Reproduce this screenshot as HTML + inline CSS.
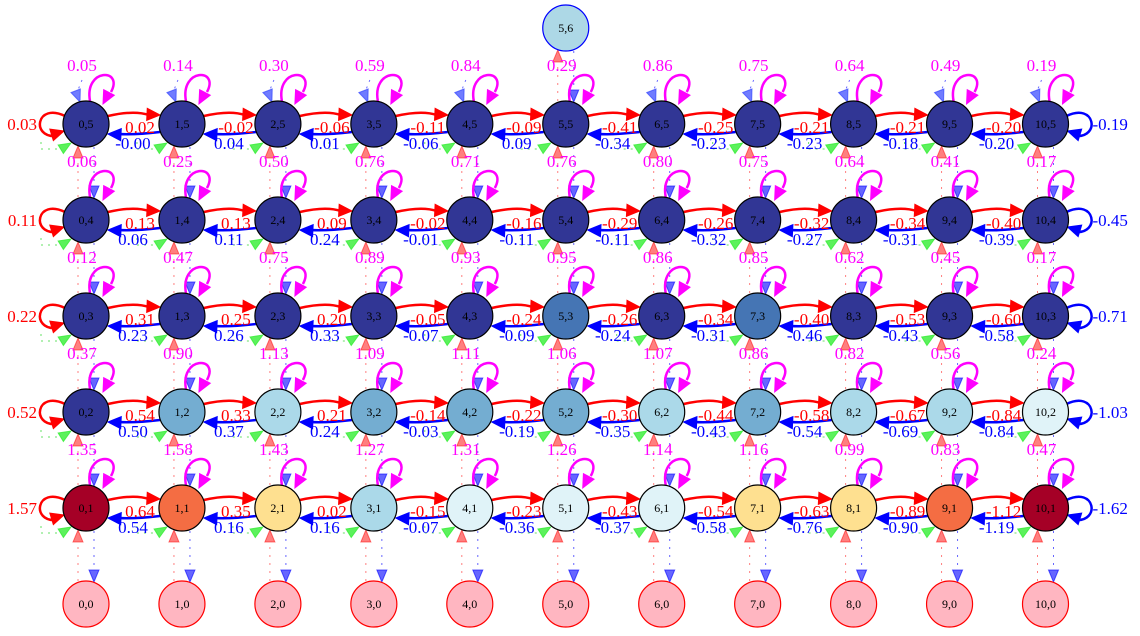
<!DOCTYPE html>
<html><head><meta charset="utf-8">
<style>
html,body{margin:0;padding:0;background:#fff;}
svg{display:block;}
text{font-family:"Liberation Serif",serif;}
</style></head>
<body>
<svg id="g" width="1140" height="636" viewBox="0 0 1140 636" xmlns="http://www.w3.org/2000/svg"></svg>
<script>
// rows 5..1 (top to bottom)
const rowIds = [5,4,3,2,1];
const colIds = [0,1,2,3,4,5,6,7,8,9,10];
const selfVals = [
 ["0.05","0.14","0.30","0.59","0.84","0.29","0.86","0.75","0.64","0.49","0.19"],
 ["0.06","0.25","0.50","0.76","0.71","0.76","0.80","0.75","0.64","0.41","0.17"],
 ["0.12","0.47","0.75","0.89","0.93","0.95","0.86","0.85","0.62","0.45","0.17"],
 ["0.37","0.90","1.13","1.09","1.11","1.06","1.07","0.86","0.82","0.56","0.24"],
 ["1.35","1.58","1.43","1.27","1.31","1.26","1.14","1.16","0.99","0.83","0.47"]];
const rightVals = [
 ["0.02","-0.02","-0.06","-0.11","-0.09","-0.41","-0.25","-0.21","-0.21","-0.20"],
 ["0.13","0.13","0.09","-0.02","-0.16","-0.29","-0.26","-0.32","-0.34","-0.40"],
 ["0.31","0.25","0.20","-0.05","-0.24","-0.26","-0.34","-0.40","-0.53","-0.60"],
 ["0.54","0.33","0.21","-0.14","-0.22","-0.30","-0.44","-0.58","-0.67","-0.84"],
 ["0.64","0.35","0.02","-0.15","-0.23","-0.43","-0.54","-0.63","-0.89","-1.12"]];
const leftVals = [
 ["-0.00","0.04","0.01","-0.06","0.09","-0.34","-0.23","-0.23","-0.18","-0.20"],
 ["0.06","0.11","0.24","-0.01","-0.11","-0.11","-0.32","-0.27","-0.31","-0.39"],
 ["0.23","0.26","0.33","-0.07","-0.09","-0.24","-0.31","-0.46","-0.43","-0.58"],
 ["0.50","0.37","0.24","-0.03","-0.19","-0.35","-0.43","-0.54","-0.69","-0.84"],
 ["0.54","0.16","0.16","-0.07","-0.36","-0.37","-0.58","-0.76","-0.90","-1.19"]];
const leftLoopVals = ["0.03","0.11","0.22","0.52","1.57"];
const rightLoopVals = ["-0.19","-0.45","-0.71","-1.03","-1.62"];
const fills = [
 ["#313695","#313695","#313695","#313695","#313695","#313695","#313695","#313695","#313695","#313695","#313695"],
 ["#313695","#313695","#313695","#313695","#313695","#313695","#313695","#313695","#313695","#313695","#313695"],
 ["#313695","#313695","#313695","#313695","#313695","#4575b4","#313695","#4575b4","#313695","#313695","#313695"],
 ["#313695","#74add1","#abd9e9","#74add1","#74add1","#74add1","#abd9e9","#74add1","#abd9e9","#abd9e9","#e0f3f8"],
 ["#a50026","#f46d43","#fee090","#abd9e9","#e0f3f8","#e0f3f8","#e0f3f8","#fee090","#fee090","#f46d43","#a50026"]];

const svg = document.getElementById('g');
const NS = 'http://www.w3.org/2000/svg';
const X0 = 86, DX = 95.95, Y0 = 124, DY = 96, R = 23;
function cx(c){ return X0 + c*DX; }
function cy(r){ return Y0 + r*DY; }
function mk(tag, attrs, parent){
  const e = document.createElementNS(NS, tag);
  for (const k in attrs) e.setAttribute(k, attrs[k]);
  (parent||svg).appendChild(e);
  return e;
}
function arrow(x, y, ang, col, op, parent, L, W){
  L = L || 12; W = W || 5;
  const bx = x - L*Math.cos(ang), by = y - L*Math.sin(ang);
  const px = -Math.sin(ang)*W, py = Math.cos(ang)*W;
  return mk('polygon', {points:`${x},${y} ${bx+px},${by+py} ${bx-px},${by-py}`, fill:col, stroke:col, 'fill-opacity':op, 'stroke-opacity':op}, parent);
}
function label(x, y, txt, col, anchor, name){
  const t = mk('text', {x:x, y:y, fill:col, 'font-size':17, 'text-anchor':anchor||'middle'});
  t.textContent = txt;
  
  
  return t;
}

const edges = mk('g', {});



// vertical dotted edges
for (let c = 0; c < colIds.length; c++){
  const x = cx(c);
  for (let r = 0; r < 5; r++){
    const yTop = cy(r), yBot = cy(r+1);
    mk('line', {x1:x-8, y1:yBot-R, x2:x-8, y2:yTop+R+10, stroke:'#ff0000', 'stroke-opacity':0.5, 'stroke-dasharray':'2,6'}, edges);
    arrow(x-8, yTop+R-1, -Math.PI/2, '#ff0000', 0.5, edges);
    mk('line', {x1:x+8, y1:yTop+R, x2:x+8, y2:yBot-R-10, stroke:'#0000ff', 'stroke-opacity':0.6, 'stroke-dasharray':'2,6'}, edges);
    arrow(x+8, yBot-R+1, Math.PI/2, '#0000ff', 0.6, edges);
  }
  for (let r = 0; r < 5; r++){
    const y = cy(r);
    mk('path', {d:`M${x-45},${y+18} L${x-45},${y+25} L${x-28},${y+25}`, fill:'none', stroke:'#00cc00', 'stroke-opacity':0.6, 'stroke-dasharray':'2,5'}, edges);
    arrow(x-15, y+19, -0.55, '#33ee33', 0.8, edges);
  }
  if (c !== 5){
    mk('line', {x1:x-4, y1:cy(0)-44, x2:x-8, y2:cy(0)-34, stroke:'#0000ff', 'stroke-opacity':0.6, 'stroke-dasharray':'2,5'}, edges);
    arrow(x-6, cy(0)-22, 1.2, '#3344ff', 0.7, edges);
  }
}
{
  const x = cx(5);
  mk('line', {x1:x-8, y1:cy(0)-R, x2:x-8, y2:28+R+10, stroke:'#ff0000', 'stroke-opacity':0.5, 'stroke-dasharray':'2,6'}, edges);
  arrow(x-8, 28+R-1, -Math.PI/2, '#ff0000', 0.5, edges);
  mk('line', {x1:x+8, y1:28+R, x2:x+8, y2:cy(0)-R-10, stroke:'#0000ff', 'stroke-opacity':0.6, 'stroke-dasharray':'2,6'}, edges);
  arrow(x+8, cy(0)-R+1, Math.PI/2, '#0000ff', 0.6, edges);
}

for (let r = 0; r < 5; r++){
  const y = cy(r);
  for (let c = 0; c < colIds.length; c++){
    const x = cx(c);
    mk('path', {d:`M${x+4},${y-23} C${x-2},${y-56} ${x+38},${y-56} ${x+25},${y-32}`, fill:'none', stroke:'#ff00ff', 'stroke-width':2.5}, edges);
    arrow(x+17, y-20, 2.05, '#ff00ff', 1, edges, 13, 6);
    label(x-4, y-53, selfVals[r][c], '#ff00ff', 'middle', 'self-loop-label');
  }
  for (let c = 0; c < colIds.length-1; c++){
    const x1 = cx(c), x2 = cx(c+1);
    mk('path', {d:`M${x1+R-1},${y-8} Q${(x1+x2)/2},${y-14} ${x2-R-10},${y-9}`, fill:'none', stroke:'#ff0000', 'stroke-width':2.5}, edges);
    arrow(x2-R+1, y-9, 0.05, '#ff0000', 1, edges, 13, 6);
    mk('path', {d:`M${x2-R+1},${y+8} Q${(x1+x2)/2},${y+11} ${x1+R+10},${y+10}`, fill:'none', stroke:'#0000ff', 'stroke-width':2.5}, edges);
    arrow(x1+R-1, y+10, Math.PI+0.05, '#0000ff', 1, edges, 13, 6);
    label((x1+x2)/2+6, y+9, rightVals[r][c], '#ff0000', 'middle', 'right-edge-label');
    label((x1+x2)/2-1, y+25, leftVals[r][c], '#0000ff', 'middle', 'left-edge-label');
  }
  const xl = cx(0);
  mk('path', {d:`M${xl-R+2},${y-8} C${xl-50},${y-22} ${xl-55},${y+14} ${xl-30},${y+12}`, fill:'none', stroke:'#ff0000', 'stroke-width':2.5}, edges);
  arrow(xl-R+1, y+7, -0.3, '#ff0000', 1, edges, 13, 6);
  label(xl-49, y+6, leftLoopVals[r], '#ff0000', 'end', 'left-loop-label');
  const xr = cx(10);
  mk('path', {d:`M${xr+R-2},${y-8} C${xr+50},${y-22} ${xr+55},${y+14} ${xr+30},${y+12}`, fill:'none', stroke:'#0000ff', 'stroke-width':2.5}, edges);
  arrow(xr+R-1, y+7, Math.PI+0.3, '#0000ff', 1, edges, 13, 6);
  label(xr+47, y+6, rightLoopVals[r], '#0000ff', 'start', 'right-loop-label');
}

function node(x, y, fill, stroke, txt){
  const g = mk('g', {});
  
  
  mk('circle', {cx:x, cy:y, r:R, fill:fill, stroke:stroke, 'stroke-width':1.2}, g);
  const t = mk('text', {x:x, y:y+4, 'font-size':12, 'text-anchor':'middle', fill:'#000'}, g);
  t.textContent = txt;
}
for (let r = 0; r < 5; r++)
  for (let c = 0; c < colIds.length; c++)
    node(cx(c), cy(r), fills[r][c], '#000', colIds[c] + ',' + rowIds[r]);
for (let c = 0; c < colIds.length; c++)
  node(cx(c), cy(5), '#ffb6c1', '#ff0000', colIds[c] + ',0');
node(cx(5), 28, '#add8e6', '#0000ff', '5,6');
</script>
</body></html>
